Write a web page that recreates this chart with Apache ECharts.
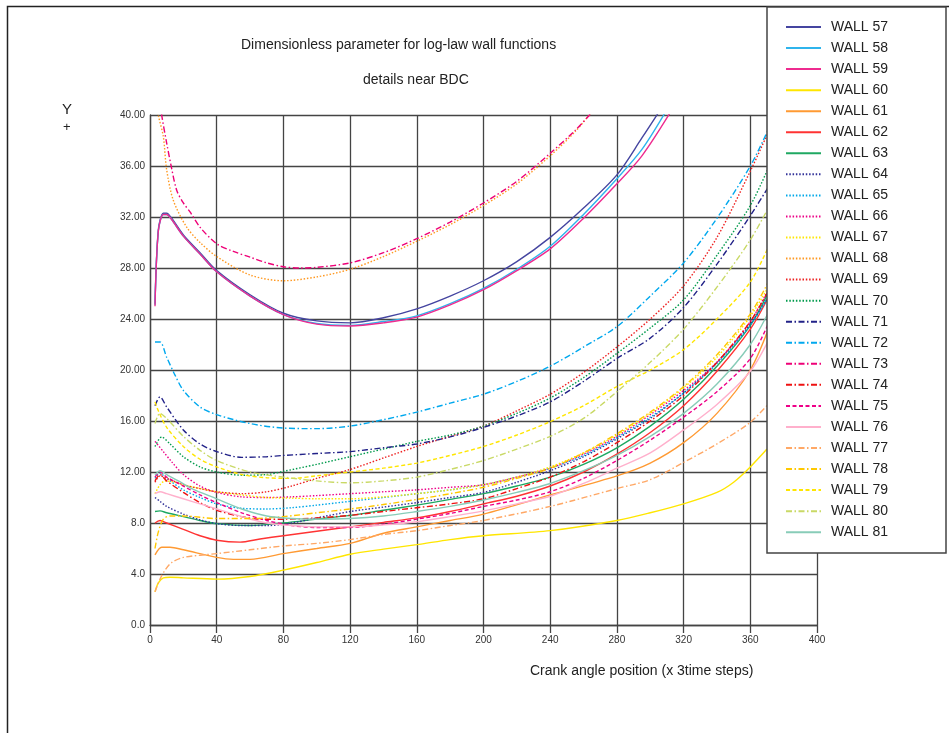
<!DOCTYPE html>
<html>
<head>
<meta charset="utf-8">
<script src="https://cdn.jsdelivr.net/npm/echarts@6/dist/echarts.min.js"></script>
<style>
html,body{margin:0;padding:0;background:#fff;}
#chart{width:949px;height:733px;}
</style>
</head>
<body>
<div id="chart"></div>
<script>
// ---------- data ----------
const xTicks = [0, 40, 80, 120, 160, 200, 240, 280, 320, 360, 400];
const yTicks = [0, 4, 8, 12, 16, 20, 24, 28, 32, 36, 40];
const yTickLabels = ['0.0', '4.0', '8.0', '12.00', '16.00', '20.00', '24.00', '28.00', '32.00', '36.00', '40.00'];
const seriesNames = ['WALL 57','WALL 58','WALL 59','WALL 60','WALL 61','WALL 62','WALL 63','WALL 64','WALL 65','WALL 66','WALL 67','WALL 68','WALL 69','WALL 70','WALL 71','WALL 72','WALL 73','WALL 74','WALL 75','WALL 76','WALL 77','WALL 78','WALL 79','WALL 80','WALL 81'];

const wall57 = [[3,25.2],[5,31.0],[8,32.3],[10,32.3],[13,31.9],[20,30.6],[30,29.2],[40,27.8],[60,25.9],[80,24.45],[100,23.85],[120,23.7],[140,24.1],[160,24.8],[180,25.8],[200,27.0],[220,28.5],[240,30.4],[260,32.7],[280,35.3],[295,38.2],[305,40.2]];
const wall58 = [[3,25.1],[5,30.9],[8,32.2],[10,32.2],[13,31.8],[20,30.5],[30,29.1],[40,27.7],[60,25.8],[80,24.35],[100,23.65],[120,23.5],[140,23.8],[160,24.25],[180,25.2],[200,26.4],[220,27.9],[240,29.7],[260,32.2],[280,35.0],[295,37.3],[309,40.2]];
const wall59 = [[3,25.0],[5,30.9],[8,32.2],[10,32.2],[13,31.8],[20,30.5],[30,29.1],[40,27.7],[60,25.8],[80,24.35],[100,23.6],[120,23.45],[140,23.7],[160,24.15],[180,25.1],[200,26.3],[220,27.8],[240,29.5],[260,31.9],[280,34.6],[295,36.8],[312,40.2]];
const wall60 = [[3,2.6],[5,3.3],[8,3.7],[12,3.75],[20,3.7],[40,3.6],[60,3.8],[80,4.3],[100,4.9],[120,5.55],[140,5.95],[160,6.3],[180,6.7],[200,7.0],[240,7.4],[280,8.2],[300,8.8],[320,9.5],[340,10.4],[350,11.2],[360,12.4],[370,13.8]];
const wall61 = [[3,5.5],[7,6.1],[12,6.1],[20,5.9],[40,5.3],[50,5.15],[60,5.15],[80,5.6],[100,6.0],[120,6.4],[140,7.2],[160,7.7],[180,8.2],[200,8.7],[240,10.2],[280,11.7],[300,12.7],[320,14.3],[340,16.6],[360,20.0],[372,23.6]];
const wall62 = [[3,8.0],[6,8.2],[10,8.0],[20,7.5],[30,7.0],[40,6.65],[54,6.5],[66,6.75],[80,7.0],[100,7.35],[120,7.7],[140,8.05],[160,8.4],[180,8.9],[200,9.5],[220,10.1],[240,10.9],[260,12.0],[280,13.4],[300,15.1],[320,17.2],[340,19.9],[360,23.2],[372,26.0]];
const wall63 = [[3,8.9],[6,8.95],[10,8.8],[20,8.5],[30,8.2],[40,7.95],[60,7.8],[80,8.0],[100,8.3],[120,8.6],[140,9.0],[160,9.4],[180,9.85],[200,10.3],[220,10.9],[240,11.6],[260,12.6],[280,13.9],[300,15.6],[320,17.7],[340,20.3],[360,23.5],[372,26.4]];
const wall64 = [[3,10.0],[6,9.7],[10,9.3],[20,8.7],[30,8.25],[40,7.95],[55,7.8],[70,7.8],[85,8.0],[100,8.4],[120,8.9],[140,9.25],[160,9.6],[180,10.0],[200,10.4],[220,11.2],[240,12.1],[260,13.2],[280,14.6],[300,16.2],[320,18.2],[340,20.6],[360,23.6],[372,26.0]];
const wall65 = [[3,11.5],[6,11.9],[10,11.5],[20,10.6],[30,10.0],[40,9.5],[55,9.15],[70,9.1],[85,9.2],[100,9.4],[120,9.7],[140,10.0],[160,10.3],[180,10.6],[200,11.0],[220,11.6],[240,12.3],[260,13.3],[280,14.7],[300,16.3],[320,18.2],[340,20.5],[360,23.5],[372,26.0]];
const wall66 = [[3,14.4],[8,13.6],[13,12.8],[20,11.8],[30,10.9],[40,10.4],[55,10.05],[70,10.0],[85,10.05],[100,10.15],[120,10.3],[140,10.45],[160,10.6],[180,10.8],[200,11.0],[220,11.6],[240,12.3],[260,13.4],[280,14.8],[300,16.5],[320,18.4],[340,20.6],[360,23.8],[372,26.6]];
const wall67 = [[3,10.3],[6,11.0],[9,11.3],[15,11.2],[20,11.0],[30,10.7],[40,10.45],[55,10.2],[70,10.0],[85,9.95],[100,9.9],[120,9.9],[140,10.05],[160,10.3],[180,10.6],[200,11.0],[220,11.6],[240,12.4],[260,13.5],[280,14.9],[300,16.6],[320,18.6],[340,21.0],[360,24.2],[372,26.8]];
const wall68 = [[3,42.0],[5,40.0],[8,38.3],[10,35.7],[14,33.3],[22,31.2],[30,30.0],[40,28.9],[60,27.45],[80,27.0],[100,27.3],[120,27.9],[140,28.9],[160,30.1],[180,31.4],[200,32.9],[220,34.6],[240,36.8],[255,38.7],[264,40.1]];
const wall69 = [[3,11.2],[6,11.7],[10,11.5],[20,11.0],[30,10.7],[40,10.45],[55,10.3],[70,10.45],[85,10.9],[100,11.5],[120,12.2],[140,13.1],[160,14.0],[180,14.8],[200,15.6],[220,16.8],[240,18.1],[260,19.8],[280,21.8],[300,24.0],[320,26.6],[340,30.4],[360,35.6],[372,39.0]];
const wall70 = [[3,14.0],[7,14.75],[12,14.2],[20,13.2],[30,12.4],[40,12.0],[55,11.75],[70,11.8],[80,12.05],[100,12.6],[120,13.2],[140,13.8],[160,14.4],[180,14.9],[200,15.6],[220,16.6],[240,17.8],[260,19.4],[280,21.3],[300,23.3],[320,25.5],[340,29.0],[360,32.9],[372,36.2]];
const wall71 = [[3,17.2],[6,17.9],[10,17.1],[20,15.3],[30,14.2],[40,13.6],[55,13.15],[70,13.2],[80,13.3],[100,13.45],[120,13.6],[140,13.9],[160,14.2],[180,14.75],[200,15.5],[220,16.4],[240,17.5],[260,19.1],[280,20.9],[300,22.5],[320,24.9],[340,28.3],[360,32.1],[372,34.6]];
const wall72 = [[3,22.2],[6,22.2],[10,21.0],[15,19.6],[20,18.4],[30,17.1],[40,16.5],[60,15.8],[80,15.45],[100,15.4],[120,15.6],[140,16.1],[160,16.7],[180,17.4],[200,18.1],[220,19.1],[240,20.3],[260,21.8],[280,23.4],[300,25.8],[320,28.4],[340,31.9],[360,36.0],[372,39.2]];
const wall73 = [[5,42.0],[7,40.0],[10,37.8],[13,35.8],[16,34.1],[20,33.1],[24,32.4],[30,31.2],[40,29.9],[50,29.3],[60,28.85],[70,28.4],[80,28.1],[90,28.0],[100,28.05],[120,28.4],[140,29.2],[160,30.3],[180,31.6],[200,33.1],[220,34.8],[240,37.0],[255,38.8],[265,40.2]];
const wall74 = [[3,11.3],[6,11.8],[10,11.3],[20,10.4],[30,9.6],[40,9.0],[55,8.5],[66,8.3],[80,8.3],[100,8.4],[120,8.6],[140,8.9],[160,9.2],[180,9.5],[200,9.9],[220,10.7],[240,11.6],[260,12.8],[280,14.3],[300,16.0],[320,18.0],[340,20.6],[360,23.8],[372,26.5]];
const wall75 = [[3,11.6],[6,12.0],[10,11.6],[20,10.9],[30,10.2],[40,9.6],[55,8.8],[70,8.2],[85,7.8],[100,7.65],[120,7.65],[140,7.9],[160,8.3],[180,8.75],[200,9.3],[220,9.8],[240,10.45],[260,11.5],[280,12.9],[300,14.5],[320,16.3],[340,18.3],[360,20.9],[372,24.0]];
const wall76 = [[3,10.3],[6,10.45],[10,10.3],[20,9.9],[30,9.5],[40,9.1],[55,8.5],[70,8.0],[85,7.8],[100,7.7],[120,7.7],[140,7.85],[160,8.1],[180,8.5],[200,8.95],[220,9.5],[240,10.1],[260,11.1],[280,12.3],[300,13.5],[320,15.3],[340,17.3],[360,19.9],[372,22.6]];
const wall77 = [[3,2.6],[6,3.6],[9,4.3],[13,4.9],[20,5.3],[40,5.6],[60,5.9],[80,6.2],[100,6.4],[120,6.7],[140,7.1],[160,7.4],[180,7.8],[200,8.2],[240,9.3],[280,10.7],[300,11.4],[320,12.75],[340,14.2],[360,15.9],[372,17.5]];
const wall78 = [[3,6.0],[5,7.3],[8,8.3],[12,8.55],[20,8.55],[40,8.35],[60,8.35],[80,8.5],[100,8.8],[120,9.1],[140,9.45],[160,9.85],[180,10.3],[200,10.8],[220,11.5],[240,12.3],[260,13.5],[280,15.0],[300,16.7],[320,18.7],[340,21.2],[360,24.4],[372,27.2]];
const wall79 = [[3,17.5],[5,16.8],[10,15.5],[20,14.0],[30,13.0],[40,12.4],[55,11.8],[70,11.55],[85,11.5],[100,11.7],[120,12.0],[140,12.3],[160,12.7],[180,13.3],[200,14.0],[220,14.9],[240,15.95],[260,17.2],[280,18.7],[300,20.0],[320,21.6],[340,24.0],[360,26.9],[372,30.0]];
const wall80 = [[3,15.8],[6,16.6],[10,16.2],[20,14.8],[30,13.7],[40,12.9],[60,12.0],[80,11.6],[100,11.3],[120,11.15],[140,11.3],[160,11.6],[180,12.2],[200,12.9],[220,13.8],[240,14.8],[260,16.2],[280,18.3],[300,20.6],[320,23.2],[340,26.5],[360,30.2],[372,33.0]];
const wall81 = [[3,11.75],[6,12.1],[10,11.8],[17,11.3],[25,10.7],[40,9.9],[55,9.1],[70,8.55],[85,8.35],[100,8.3],[120,8.35],[140,8.55],[160,8.9],[180,9.3],[200,9.8],[220,10.4],[240,11.1],[260,12.1],[280,13.3],[300,14.8],[320,16.6],[340,18.9],[360,22.0],[372,24.8]];

const seriesData = [wall57,wall58,wall59,wall60,wall61,wall62,wall63,wall64,wall65,wall66,wall67,wall68,wall69,wall70,wall71,wall72,wall73,wall74,wall75,wall76,wall77,wall78,wall79,wall80,wall81];

// ---------- styles ----------
const DOT = [1.5, 1.8];
const DASH = [4, 2.5];
const DASHDOT = [6, 2.5, 1.5, 2.5];
const seriesColors = ['#4545a0','#2fb4ec','#ee2b8f','#ffe600','#ff9a33','#ff3333','#1fa862','#33339a','#00a8e8','#ee0088','#ffe600','#ff9922','#ee2222','#009a4c','#222288','#00a8ee','#ee0077','#ee1111','#ee0088','#ffb0cc','#ffa866','#ffc800','#ffe600','#c9d966','#88ccb8'];
const seriesDash = ['solid','solid','solid','solid','solid','solid','solid',DOT,DOT,DOT,DOT,DOT,DOT,DOT,DASHDOT,DASHDOT,DASHDOT,DASHDOT,DASH,'solid',DASHDOT,DASHDOT,DASH,DASHDOT,'solid'];

const FONT = 'Liberation Sans, Arial, sans-serif';

const series = seriesNames.map((name, i) => ({
  name: name,
  type: 'line',
  data: seriesData[i],
  showSymbol: false,
  symbol: 'none',
  smooth: 0.3,
  clip: true,
  silent: true,
  z: 2,
  lineStyle: { color: seriesColors[i], width: 1.4, type: seriesDash[i] },
  itemStyle: { color: seriesColors[i] }
}));

const chart = echarts.init(document.getElementById('chart'), null, { renderer: 'canvas' });
chart.setOption({
  animation: false,
  backgroundColor: '#ffffff',
  grid: { left: 150, right: 132, top: 115, bottom: 108, containLabel: false, show: false },
  xAxis: {
    type: 'value', min: xTicks[0], max: xTicks[xTicks.length - 1], interval: 40,
    axisLine: { show: true, lineStyle: { color: '#444', width: 1.3 } },
    axisTick: { show: true, length: 8, lineStyle: { color: '#444', width: 1.3 } },
    axisLabel: { color: '#333', fontSize: 10, fontFamily: FONT, margin: 10 },
    splitLine: { show: true, lineStyle: { color: '#444', width: 1.3 } }
  },
  yAxis: {
    type: 'value', min: yTicks[0], max: yTicks[yTicks.length - 1], interval: 4,
    axisLine: { show: true, lineStyle: { color: '#444', width: 1.3 } },
    axisTick: { show: false },
    axisLabel: {
      color: '#333', fontSize: 10, fontFamily: FONT, margin: 5,
      formatter: v => yTickLabels[yTicks.indexOf(v)]
    },
    splitLine: { show: true, lineStyle: { color: '#444', width: 1.3 } }
  },
  legend: {
    data: seriesNames,
    orient: 'vertical',
    left: 785, top: 20,
    padding: 0,
    itemWidth: 35, itemHeight: 14, itemGap: 7.05,
    selectedMode: false,
    z: 60,
    itemStyle: { opacity: 0 },
    lineStyle: { width: 2 },
    textStyle: { fontSize: 14, color: '#222', fontFamily: FONT, padding: [0, 0, 0, 5] }
  },
  graphic: [
    { type: 'rect', z: 1, silent: true, shape: { x: 7.5, y: 6.5, width: 1000, height: 1000 }, style: { fill: 'none', stroke: '#222', lineWidth: 1.5 } },
    { type: 'rect', z: 50, silent: true, shape: { x: 767, y: 7, width: 179, height: 546 }, style: { fill: '#fff', stroke: '#444', lineWidth: 1.5 } },
    { type: 'text', z: 10, left: 241, top: 38, style: { text: 'Dimensionless parameter for log-law wall functions', fill: '#222', font: '14px ' + FONT } },
    { type: 'text', z: 10, left: 363, top: 73, style: { text: 'details near BDC', fill: '#222', font: '14px ' + FONT } },
    { type: 'text', z: 10, left: 62, top: 102, style: { text: 'Y', fill: '#222', font: '15px ' + FONT } },
    { type: 'text', z: 10, left: 63, top: 121, style: { text: '+', fill: '#222', font: '13px ' + FONT } },
    { type: 'text', z: 10, left: 530, top: 664, style: { text: 'Crank angle position (x 3time steps)', fill: '#222', font: '14px ' + FONT } }
  ],
  series: series
});
</script>
</body>
</html>
